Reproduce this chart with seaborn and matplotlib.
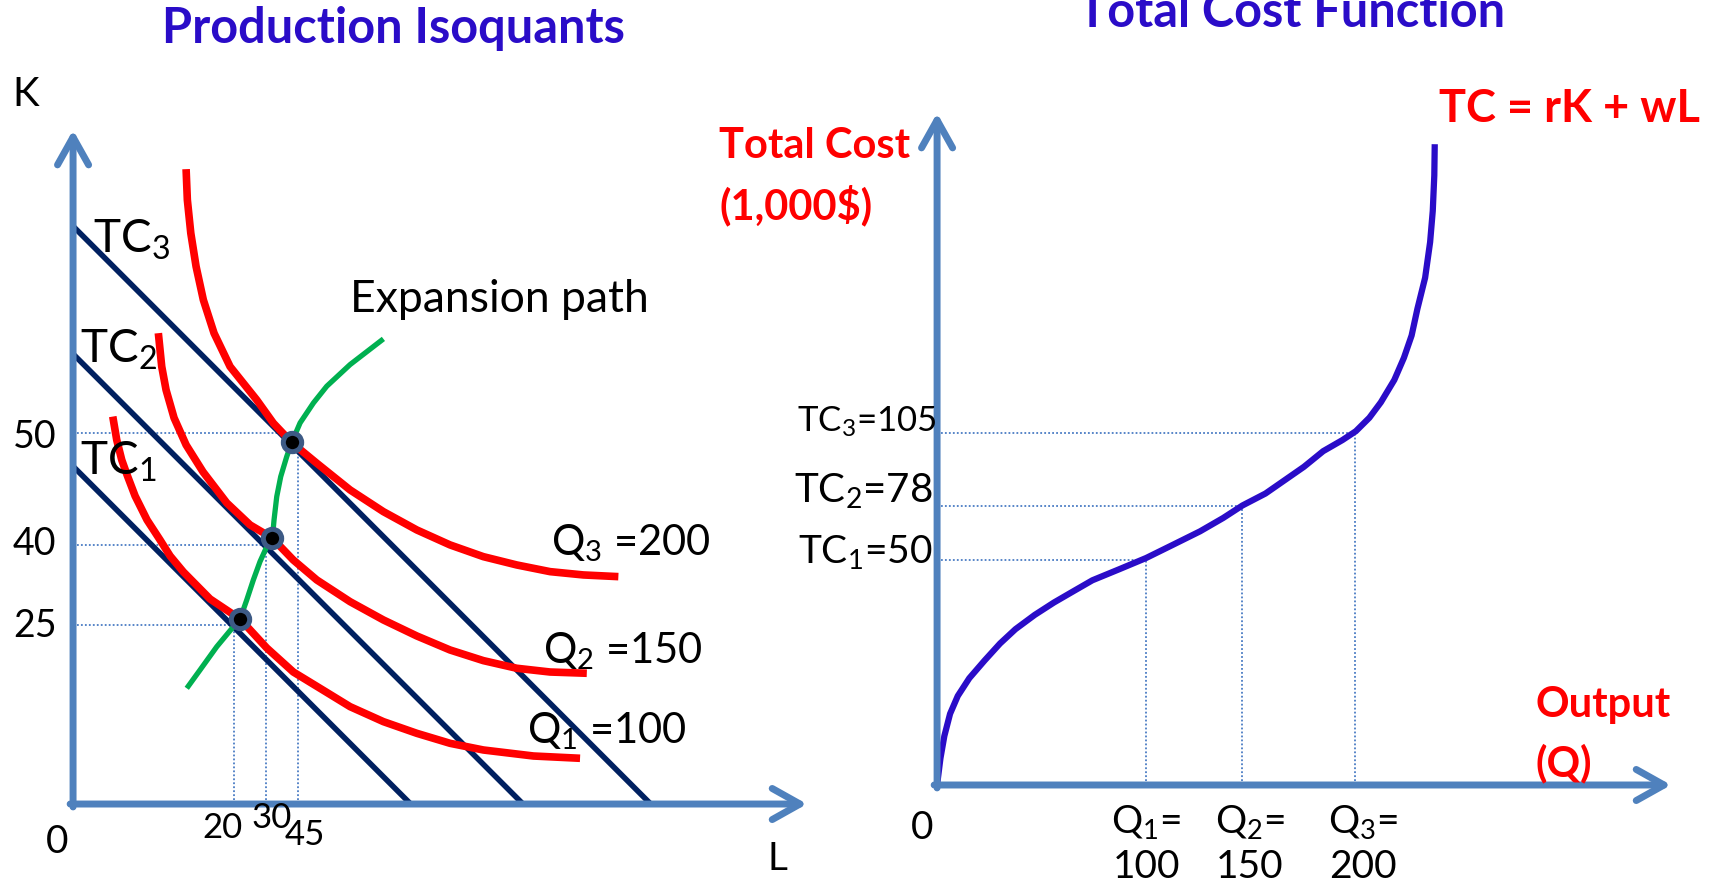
import numpy as np
import pandas as pd
import seaborn as sns
import matplotlib.pyplot as plt

# ---- data (diagram units) ----
# left panel: budget lines (intercepts on K and L, slope -1)
budget_names = ['TC3', 'TC2', 'TC1']
budget_intercepts = [78.7, 61.3, 46.0]

# isoquants (L, K)
q3_L = [15.40, 15.57, 16.04, 16.76, 17.75, 19.21, 21.39, 25.02, 27.29, 29.80,
        33.20, 37.74, 42.28, 46.83, 51.36, 55.90, 60.45, 64.99, 69.52, 74.29]
q3_K = [86.47, 82.29, 77.75, 73.21, 68.66, 64.12, 59.58, 55.04, 51.87, 49.22,
        46.42, 42.78, 39.82, 37.33, 35.29, 33.69, 32.56, 31.65, 31.20, 30.97]
q2_L = [11.62, 12.08, 12.67, 13.76, 15.40, 17.71, 20.94, 24.12, 27.11,
        30.00, 33.20, 37.74, 42.28, 46.83, 51.36, 55.90, 60.45, 64.99, 69.99]
q2_K = [64.13, 59.58, 56.40, 52.59, 48.91, 45.23, 41.01, 38.01, 36.24,
        33.24, 30.52, 27.56, 25.07, 22.89, 20.98, 19.53, 18.49, 17.98, 17.81]
q1_L = [5.41, 5.95, 6.63, 7.36, 8.45, 10.08, 11.85, 13.22, 15.03, 18.66,
        22.75, 26.39, 30.01, 34.11, 37.74, 42.28, 46.83, 51.36, 55.90,
        62.72, 69.07]
q1_K = [52.77, 49.59, 46.87, 44.82, 41.96, 38.69, 35.97, 33.79, 31.61, 27.93,
        25.20, 21.25, 17.98, 15.48, 13.26, 11.22, 9.63, 8.27, 7.36, 6.54, 6.23]

# expansion path
exp_L = [15.49, 17.30, 19.58, 21.39, 22.75, 23.66, 24.56, 25.47, 26.39, 27.15,
         27.38, 27.75, 28.29, 29.11, 29.80, 30.93, 31.84, 32.75, 34.56,
         37.74, 42.28]
exp_K = [15.76, 18.26, 21.43, 23.61, 25.20, 27.79, 30.52, 33.02, 35.05, 36.10,
         38.69, 41.87, 44.59, 47.32, 49.27, 51.91, 53.27, 54.63, 56.90,
         59.85, 63.35]

# tangency points
opt_L = [22.8, 27.1, 29.8]
opt_K = [25.2, 36.2, 49.3]

# guide lines and their labels
guide_L = [21.9, 26.3, 30.7]
guide_K = [24.4, 35.3, 50.5]
K_labels = ['25', '40', '50']
L_labels = ['20', '30', '45']
iso_labels = ['Q$_1$ =100', 'Q$_2$ =150', 'Q$_3$ =200']

# right panel: total cost curve (Q, TC) in diagram units
tc_Q = [0.00, 0.46, 0.99, 1.77, 2.82, 4.39, 6.49, 8.58, 10.68, 13.30, 15.92,
        18.54, 21.16, 24.83, 28.49, 32.16, 35.83, 38.98, 41.60, 44.74, 47.36,
        49.98, 52.60, 55.22, 57.05, 58.89, 60.46, 62.29, 63.60, 64.65, 65.44,
        66.49, 67.17, 67.53, 67.74, 67.80]
tc_C = [0.00, 3.64, 6.67, 9.70, 12.13, 14.55, 16.98, 19.28, 21.23, 23.17,
        24.86, 26.38, 27.89, 29.40, 30.93, 32.74, 34.56, 36.38, 38.08, 39.71,
        41.53, 43.35, 45.48, 46.99, 48.20, 50.03, 52.14, 55.18, 58.20, 61.24,
        64.88, 69.11, 73.96, 78.21, 83.06, 87.30]
mark_Q = [28.5, 41.6, 57.0]
mark_C = [30.7, 38.0, 48.0]
cost_labels = ['TC$_1$=50', 'TC$_2$=78', 'TC$_3$=105']
output_labels = [('Q$_1$=', '100'), ('Q$_2$=', '150'), ('Q$_3$=', '200')]

# ---- style ----
sns.set_theme(style='white')
plt.rcParams['font.family'] = ['Lato', 'DejaVu Sans']
plt.rcParams['mathtext.fontset'] = 'custom'
plt.rcParams['mathtext.rm'] = 'Lato'
plt.rcParams['mathtext.default'] = 'regular'

AXIS = '#4f81bd'
DOT = '#4a7cc4'
NAVY = '#002060'
RED = '#ff0000'
GREEN = '#00b050'
BLUE = '#2a0cc8'

fig = plt.figure(figsize=(17.15, 8.85), dpi=100)
axl = fig.add_axes([0.0426, 0.0915, 0.4280, 0.7616])
axr = fig.add_axes([0.5464, 0.1130, 0.4280, 0.7593])
for ax in (axl, axr):
    ax.set_axis_off()
axl.set_xlim(0, 100)
axl.set_ylim(0, 91.8)
axr.set_xlim(0, 100)
axr.set_ylim(0, 91.55)


def arrow_axes(ax, xmax, ymax):
    props = dict(arrowstyle='->,head_length=0.5,head_width=0.28', lw=5,
                 color=AXIS, mutation_scale=40, shrinkA=0, shrinkB=0)
    ax.annotate('', xy=(0, ymax), xytext=(0, -0.4), arrowprops=props)
    ax.annotate('', xy=(xmax, 0), xytext=(-0.4, 0), arrowprops=props)


def curve(ax, x, y, color, lw):
    sns.lineplot(x=x, y=y, ax=ax, color=color, lw=lw, sort=False,
                 estimator=None)
    ax.lines[-1].set_solid_joinstyle('round')
    ax.lines[-1].set_solid_capstyle('butt')


# ---- left panel: production isoquants ----
dot_kw = dict(color=DOT, lw=1.3, linestyle=(0, (1, 1.2)))
for l, k in zip(guide_L, guide_K):
    axl.plot([0, l], [k, k], **dot_kw)
    axl.plot([l, l], [0, k], **dot_kw)

for b in budget_intercepts:
    curve(axl, [0, b], [b, 0], NAVY, 4)

for L, K in [(q1_L, q1_K), (q2_L, q2_K), (q3_L, q3_K)]:
    curve(axl, L, K, RED, 5.5)

curve(axl, exp_L, exp_K, GREEN, 3.8)

sns.scatterplot(x=opt_L, y=opt_K, ax=axl, color='black', s=175,
                edgecolor='#3d5a85', linewidth=3.6, zorder=5)

arrow_axes(axl, 100, 91.8)

txt = dict(color='black', clip_on=False)
axl.text(2.7, 75.1, 'TC$_3$', fontsize=33, va='baseline', **txt)
axl.text(0.9, 60.1, 'TC$_2$', fontsize=33, va='baseline', **txt)
axl.text(0.9, 44.8, 'TC$_1$', fontsize=33, va='baseline', **txt)
axl.text(37.7, 67.0, 'Expansion path', fontsize=32, va='baseline', **txt)
for lab, x, y in zip(iso_labels, [61.9, 64.0, 65.1], [8.3, 19.2, 33.9]):
    axl.text(x, y, lab, fontsize=30, va='baseline', **txt)
for lab, k in zip(K_labels, [24.25, 35.4, 50.0]):
    axl.text(-8.2, k, lab, fontsize=27, va='center', ha='left', **txt)
for lab, x, y in zip(L_labels, [20.4, 27.1, 31.6], [-3.3, -1.9, -4.2]):
    axl.text(x, y, lab, fontsize=25, va='center', ha='center', **txt)
axl.text(-6.4, 96.6, 'K', fontsize=29, va='center', ha='center', **txt)
axl.text(95.9, -7.5, 'L', fontsize=28, va='center', ha='center', **txt)
axl.text(-2.2, -5.2, '0', fontsize=28, va='center', ha='center', **txt)
axl.text(43.7, 103.7, 'Production Isoquants', fontsize=35, fontweight='bold',
         color=BLUE, ha='center', va='baseline', clip_on=False)

# ---- right panel: total cost function ----
for q, c in zip(mark_Q, mark_C):
    axr.plot([0, q], [c, c], **dot_kw)
    axr.plot([q, q], [0, c], **dot_kw)

curve(axr, tc_Q, tc_C, BLUE, 4.5)

arrow_axes(axr, 100, 91.55)

for lab, y, fs, x in zip(cost_labels, [30.2, 38.4, 48.2], [28, 29, 25],
                         [-0.6, -0.6, -0.1]):
    axr.text(x, y, lab, fontsize=fs, ha='right', va='baseline', **txt)
for (top, bot), q in zip(output_labels, [28.5, 42.6, 58.0]):
    axr.text(q, -6.6, top, fontsize=28, ha='center', va='baseline', **txt)
    axr.text(q, -12.7, bot, fontsize=28, ha='center', va='baseline', **txt)
axr.text(-2.0, -5.9, '0', fontsize=28, va='center', ha='center', **txt)

red = dict(color=RED, fontsize=30, fontweight='bold', clip_on=False,
           va='center', ha='left')
axr.text(81.5, 10.9, 'Output', **red)
axr.text(81.5, 2.9, '(Q)', **red)
axr.text(-29.7, 87.1, 'Total Cost', **red)
axr.text(-29.7, 79.0, '(1,000$)', **red)
red['fontsize'] = 32.5
axr.text(68.4, 92.1, 'TC = rK + wL', **red)
axr.text(48.3, 103.3, 'Total Cost Function', fontsize=35, fontweight='bold',
         color=BLUE, ha='center', va='baseline', clip_on=False)

fig.savefig('out.png', dpi=100)
